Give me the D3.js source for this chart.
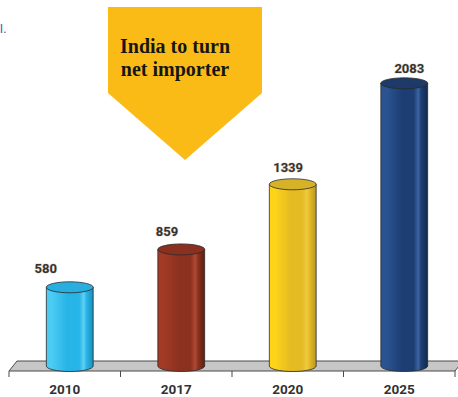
<!DOCTYPE html>
<html>
<head>
<meta charset="utf-8">
<script src="https://cdn.jsdelivr.net/npm/d3@7"></script>
<style>
  html, body { margin: 0; padding: 0; background: #fff; }
  svg { display: block; }
</style>
</head>
<body>
<svg id="chart" width="458" height="397"></svg>
<script>
// Demand figures by year
const years = ["2010", "2017", "2020", "2025"];
const values = [580, 859, 1339, 2083];
const calloutLines = ["India to turn", "net importer"];

// Cylinder palettes: [left light, body, highlight, right dark, top]
const palettes = [
  ["#4ccbf3", "#27b4e6", "#5fd0f5", "#1b8fbc", "#2aaee0"],
  ["#a23b25", "#8c3120", "#b04a30", "#5f1e10", "#8a3020"],
  ["#ffd418", "#e4bb22", "#efcb40", "#b89624", "#d6b228"],
  ["#2a5491", "#1c3e72", "#3a64a0", "#12294d", "#1d3a68"]
];

const svg = d3.select("#chart");

const floorFront = 371, floorBack = 361, depthX = 8;
const x = d3.scaleBand().domain(years).range([9, 455]).padding(0);
const y = d3.scaleLinear().domain([0, 2100]).range([366, 81]);

const barW = x.bandwidth() * 0.42;
const ry = 5.5;
const barCx = d => x(d) + x.bandwidth() / 2 + 5;

// Slight perspective spread for the value labels
const vpX = 346, spread = 1.087;
const persp = px => vpX + (px - vpX) * spread;

const defs = svg.append("defs");
palettes.forEach((p, i) => {
  const g = defs.append("linearGradient").attr("id", "cyl" + i)
    .attr("x1", "0%").attr("x2", "100%").attr("y1", "0%").attr("y2", "0%");
  [[0, p[0]], [0.12, p[0]], [0.45, p[1]], [0.7, p[1]], [0.8, p[2]], [0.86, p[1]], [1, p[3]]]
    .forEach(([o, c]) => g.append("stop").attr("offset", o).attr("stop-color", c));
});

// Callout arrow
const ax0 = 108, ax1 = 262, ay0 = 7, ay1 = 93, tipY = 160;
svg.append("polygon")
  .attr("points", [[ax0, ay0], [ax1, ay0], [ax1, ay1], [(ax0 + ax1) / 2, tipY], [ax0, ay1]].map(p => p.join(",")).join(" "))
  .attr("fill", "#fbbb17");
svg.append("g").selectAll("text").data(calloutLines).join("text")
  .attr("x", 175).attr("y", (d, i) => 53 + i * 23)
  .attr("text-anchor", "middle")
  .attr("font-family", "'Liberation Serif', serif")
  .attr("font-weight", "bold").attr("font-size", 20)
  .attr("fill", "#161616")
  .text(d => d);

// Trailing mark of the preceding text
svg.append("text").attr("x", 0).attr("y", 33)
  .attr("font-family", "'Liberation Sans', sans-serif").attr("font-size", 13)
  .attr("fill", "#3b63a8").text("l.");

// Floor slab
svg.append("polygon")
  .attr("points", [[9, floorFront], [9 + depthX, floorBack], [455 + depthX, floorBack], [455, floorFront]].map(p => p.join(",")).join(" "))
  .attr("fill", "#c6c6c6").attr("stroke", "#4a4a4a").attr("stroke-width", 1);

// Category ticks under the floor
const edges = years.map(d => x(d)).concat([x.range()[1]]);
svg.append("g").selectAll("line").data(edges).join("line")
  .attr("x1", d => d).attr("x2", d => d)
  .attr("y1", floorFront).attr("y2", floorFront + 6)
  .attr("stroke", "#4a4a4a").attr("stroke-width", 1);

// Cylinders
const bars = svg.append("g").selectAll("g").data(years).join("g");
bars.each(function (d, i) {
  const g = d3.select(this);
  const cx = barCx(d), yt = y(values[i]), yb = y(0);
  const l = cx - barW / 2, r = cx + barW / 2;
  g.append("path")
    .attr("d", `M${l},${yt} L${l},${yb} A${barW / 2},${ry} 0 0 0 ${r},${yb} L${r},${yt} Z`)
    .attr("fill", `url(#cyl${i})`)
    .attr("stroke", "#2a2a2a").attr("stroke-width", 0.8);
  g.append("ellipse")
    .attr("cx", cx).attr("cy", yt).attr("rx", barW / 2).attr("ry", ry)
    .attr("fill", palettes[i][4])
    .attr("stroke", "#2a2a2a").attr("stroke-width", 0.8);
});

// Value labels
svg.append("g").selectAll("text").data(years).join("text")
  .attr("x", d => persp(barCx(d)))
  .attr("y", (d, i) => { const yy = y(values[i]); return yy - 15.5 + 0.02 * (y(0) - yy); })
  .attr("text-anchor", "middle")
  .attr("font-family", "Roboto, sans-serif").attr("font-weight", "bold").attr("font-size", 13)
  .attr("fill", "#333").attr("style", "paint-order:stroke")
  .attr("stroke", "#e9dccb").attr("stroke-width", 1.2)
  .text((d, i) => values[i]);

// Year axis labels
svg.append("g").selectAll("text").data(years).join("text")
  .attr("x", d => x(d) + x.bandwidth() / 2)
  .attr("y", 394)
  .attr("text-anchor", "middle")
  .attr("font-family", "Roboto, sans-serif").attr("font-weight", "bold").attr("font-size", 13.5)
  .attr("fill", "#333")
  .text(d => d);
</script>
</body>
</html>
